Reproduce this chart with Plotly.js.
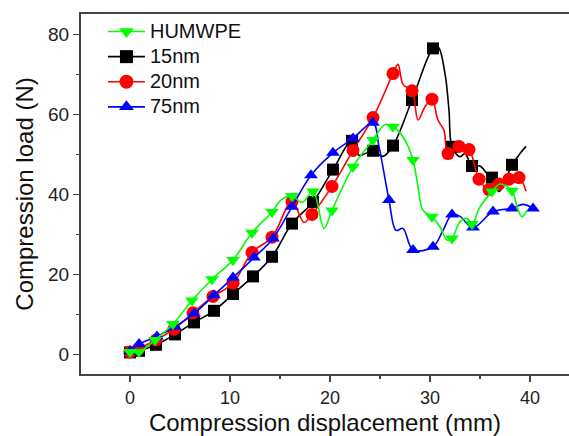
<!DOCTYPE html>
<html>
<head>
<meta charset="utf-8">
<script src="https://cdn.plot.ly/plotly-3.0.1.min.js"></script>
<style>html,body{margin:0;padding:0;background:#fff;}#chart{width:569px;height:436px;}</style>
</head>
<body>
<div id="chart"></div>
<script>
// Series names
const seriesNames = ["HUMWPE", "15nm", "20nm", "75nm"];

// HUMWPE (green) – points along the curve; mark=1 where a symbol is drawn
const humwpeX = [0, 0.9, 2.5, 4.3, 6.2, 8.2, 10.3, 12.2, 14.2, 15.2, 16.2, 17.2, 18.3, 19.4, 20.2, 22.3, 24.3, 25.5, 26.3, 27.3, 28.3, 28.8, 29.3, 30.2, 31.0, 31.7, 32.2, 33.0, 33.7, 34.2, 35.0, 36.2, 37.0, 38.2, 38.7, 39.2, 39.7];
const humwpeY = [0.6, 0.6, 3.6, 7.6, 13.5, 18.8, 23.6, 30.4, 35.6, 38.8, 39.6, 38.0, 40.7, 31.5, 36.0, 46.9, 53.6, 57.5, 56.9, 54.4, 48.6, 41.9, 36.0, 34.4, 31.9, 28.6, 29.0, 33.2, 34.0, 32.6, 36.9, 40.7, 42.6, 40.9, 36.9, 34.4, 36.0];
const humwpeMark = [1, 1, 1, 1, 1, 1, 1, 1, 1, 0, 1, 0, 1, 0, 1, 1, 1, 0, 1, 0, 1, 0, 0, 1, 0, 0, 1, 0, 0, 1, 0, 1, 0, 1, 0, 0, 0];

// 15nm (black)
const nm15X = [0, 0.9, 2.6, 4.5, 6.4, 8.4, 10.3, 12.3, 14.2, 16.2, 18.3, 20.3, 22.2, 22.9, 24.3, 25.3, 26.3, 28.2, 30.3, 30.8, 31.5, 31.9, 32.2, 33.0, 33.5, 34.2, 35.0, 35.7, 36.2, 36.9, 38.2, 39.0, 39.6];
const nm15Y = [0.5, 0.9, 2.4, 5.0, 8.0, 10.9, 15.1, 19.5, 24.4, 32.7, 38.1, 46.2, 53.4, 49.8, 50.9, 49.5, 52.2, 63.6, 76.5, 76.9, 70.2, 61.0, 51.9, 49.4, 50.2, 47.1, 47.1, 45.2, 44.2, 40.7, 47.4, 50.2, 52.0];
const nm15Mark = [1, 1, 1, 1, 1, 1, 1, 1, 1, 1, 1, 1, 1, 0, 1, 0, 1, 1, 1, 0, 0, 0, 1, 0, 0, 1, 0, 0, 1, 0, 1, 0, 0];

// 20nm (red)
const nm20X = [0, 0.9, 2.6, 4.4, 6.3, 8.3, 10.3, 12.2, 14.2, 16.2, 17.4, 18.2, 20.2, 22.3, 24.3, 26.3, 26.8, 27.3, 28.2, 28.8, 29.5, 30.2, 30.8, 31.4, 31.8, 32.9, 33.9, 34.9, 35.9, 36.9, 37.9, 38.9, 39.6];
const nm20Y = [0.6, 1.5, 3.6, 6.3, 10.4, 14.5, 17.8, 25.5, 29.3, 38.2, 33.0, 35.0, 42.0, 51.0, 59.2, 70.2, 72.5, 67.5, 65.9, 58.6, 61.9, 63.8, 58.6, 56.0, 50.2, 52.0, 51.2, 43.8, 41.2, 42.6, 43.8, 44.2, 40.8];
const nm20Mark = [1, 1, 1, 1, 1, 1, 1, 1, 1, 1, 0, 1, 1, 1, 1, 1, 0, 0, 1, 0, 0, 1, 0, 0, 1, 1, 1, 1, 1, 1, 1, 1, 0];

// 75nm (blue)
const nm75X = [0, 0.9, 2.7, 4.5, 6.4, 8.4, 10.3, 12.4, 14.3, 16.2, 18.1, 20.3, 22.3, 24.3, 24.9, 25.9, 26.6, 27.3, 28.3, 30.3, 31.3, 32.2, 33.0, 34.3, 36.3, 38.2, 39.3, 40.3];
const nm75Y = [0.8, 2.6, 4.5, 6.9, 10.2, 14.8, 19.2, 24.2, 29.0, 36.9, 44.8, 50.4, 54.0, 57.9, 52.0, 38.6, 31.0, 31.5, 26.1, 26.9, 31.0, 35.0, 34.5, 31.7, 35.7, 36.5, 37.5, 36.5];
const nm75Mark = [1, 1, 1, 1, 1, 1, 1, 1, 1, 1, 1, 1, 1, 1, 0, 1, 0, 0, 1, 1, 0, 1, 0, 1, 1, 1, 0, 1];

const xTickVals = [0, 10, 20, 30, 40];
const yTickVals = [0, 20, 40, 60, 80];

const colors = ["#00ff00", "#000000", "#ff0000", "#0000ff"];
const symbols = ["triangle-down", "square", "circle", "triangle-up"];
const symSize = [12, 12, 13, 12];
const seriesX = [humwpeX, nm15X, nm20X, nm75X];
const seriesY = [humwpeY, nm15Y, nm20Y, nm75Y];
const seriesM = [humwpeMark, nm15Mark, nm20Mark, nm75Mark];

const order = [1, 2, 3, 0]; // drawing order
const dataTraces = order.map(i => ({
  type: "scatter",
  mode: "lines+markers",
  name: seriesNames[i],
  showlegend: false,
  x: seriesX[i],
  y: seriesY[i],
  line: {color: colors[i], width: 1.6, shape: "spline", smoothing: 1},
  marker: {color: colors[i], symbol: symbols[i], opacity: 1,
    size: seriesM[i].map(m => m ? symSize[i] : 0), line: {width: 0}}
}));
// legend entries (no data of their own)
const legendTraces = [0, 1, 2, 3].map(i => ({
  type: "scatter",
  mode: "lines+markers",
  name: '<span style="font-size:20px">' + seriesNames[i] + '</span>',
  x: [null], y: [null],
  legendrank: i + 1,
  showlegend: true,
  line: {color: colors[i], width: 1.6},
  marker: {color: colors[i], symbol: symbols[i], size: symSize[i] + 1, opacity: 1, line: {width: 0}}
}));

const font = "Liberation Sans, Arial, sans-serif";
const layout = {
  width: 569, height: 436,
  margin: {l: 81, r: 0, t: 14, b: 62},
  paper_bgcolor: "#fff", plot_bgcolor: "#fff",
  showlegend: true,
  legend: {x: 0.045, y: 1.0, xanchor: "left", yanchor: "top", bgcolor: "rgba(0,0,0,0)",
    font: {family: font, size: 17, color: "#111"}, itemwidth: 37, tracegroupgap: 0},
  xaxis: {
    range: [-4.9, 43.9], tickvals: xTickVals, ticktext: xTickVals.map(String),
    ticks: "outside", ticklen: 6, tickwidth: 1.5, tickcolor: "#444",
    minor: {tickvals: [5, 15, 25, 35], ticks: "outside", ticklen: 3, tickwidth: 1.5, tickcolor: "#444"},
    showline: true, linecolor: "#444", linewidth: 2, mirror: true,
    showgrid: false, zeroline: false,
    tickfont: {family: font, size: 18, color: "#222"},
    title: {text: "Compression displacement (mm)", font: {family: font, size: 24, color: "#111"}, standoff: 11}
  },
  yaxis: {
    range: [-4.9, 85.1], tickvals: yTickVals, ticktext: yTickVals.map(String),
    ticks: "outside", ticklen: 6, tickwidth: 1.5, tickcolor: "#444",
    minor: {tickvals: [10, 30, 50, 70], ticks: "outside", ticklen: 3, tickwidth: 1.5, tickcolor: "#444"},
    showline: true, linecolor: "#444", linewidth: 2, mirror: false,
    showgrid: false, zeroline: false,
    tickfont: {family: font, size: 19, color: "#222"},
    title: {text: "Compression load (N)", font: {family: font, size: 24, color: "#111"}, standoff: 8}
  }
};

Plotly.newPlot("chart", dataTraces.concat(legendTraces), layout, {displayModeBar: false, staticPlot: true});
</script>
</body>
</html>
